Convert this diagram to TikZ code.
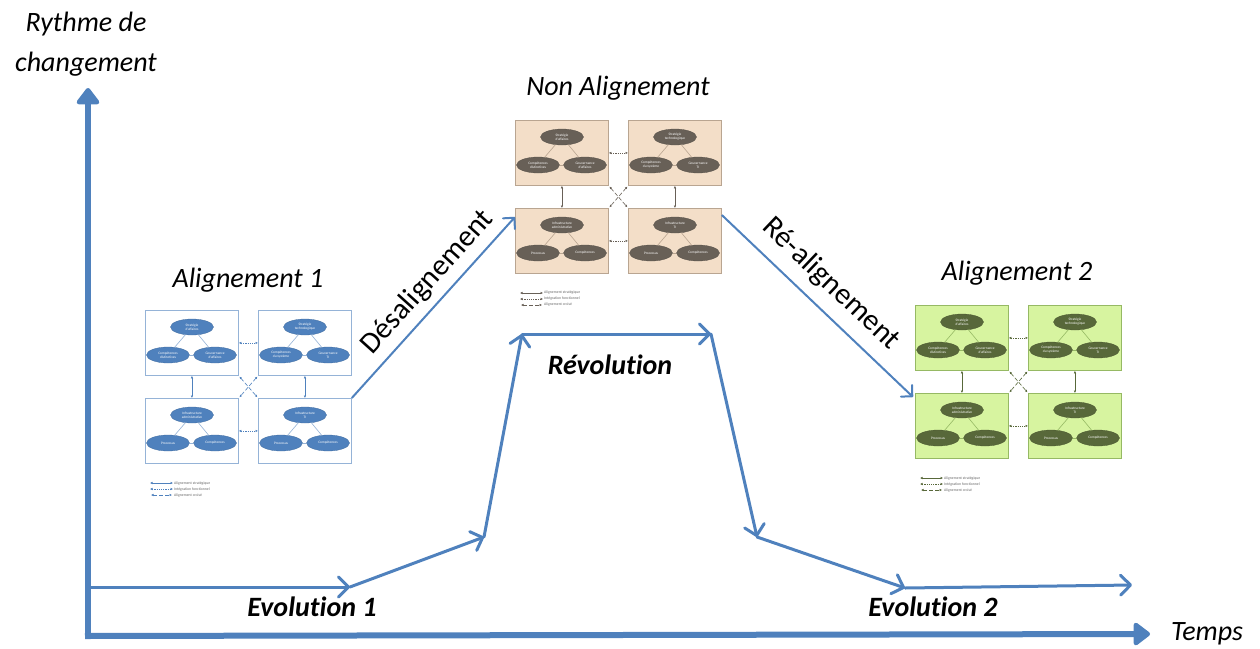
\documentclass[tikz,border=0pt]{standalone}
\usepackage{fontspec}
\setmainfont{Carlito}[Ligatures=NoCommon]
\usetikzlibrary{shapes}
\usetikzlibrary{arrows.meta}
\usetikzlibrary{positioning}

\definecolor{bleuppt}{RGB}{79,129,189}
\definecolor{bleuclair}{RGB}{149,179,215}
\definecolor{beigefond}{RGB}{243,222,200}
\definecolor{brunbord}{RGB}{185,165,145}
\definecolor{brunellip}{RGB}{104,96,87}
\definecolor{vertfond}{RGB}{215,244,160}
\definecolor{vertbord}{RGB}{150,185,100}
\definecolor{vertellip}{RGB}{88,104,58}

\newcommand{\grand}{\fontsize{28}{40}\selectfont}

% un carre du modele : #1 nom, #2 coin, #3 theme, #4-#6 textes
\newcommand{\carre}[6]{%
  \node[#3cadre, anchor=north west] (#1) at #2 {};
  \node[#3ellip] (#1-s) at ([shift={(47,17)}]#1.north west) {#4};
  \node[#3ellip] (#1-g) at ([shift={(23,45)}]#1.north west) {#5};
  \node[#3ellip] (#1-d) at ([shift={(70,45)}]#1.north west) {#6};
  \draw[#3trait] (#1-s) -- (#1-g);
  \draw[#3trait] (#1-s) -- (#1-d);
  \draw[#3trait] (#1-g) -- (#1-d);
}

% un modele complet : #1 prefixe, #2 x, #3 y, #4 theme
\newcommand{\modele}[4]{%
  \carre{#1-hg}{(#2,#3)}{#4}{Stratégie\\d'affaires}{Compétences\\distinctives}{Gouvernance\\d'affaires}
  \carre{#1-hd}{({#2+113},#3)}{#4}{Stratégie\\technologique}{Compétences\\du système}{Gouvernance\\TI}
  \carre{#1-bg}{(#2,{#3+88})}{#4}{Infrastructure\\administrative}{Processus}{Compétences}
  \carre{#1-bd}{({#2+113},{#3+88})}{#4}{Infrastructure\\TI}{Processus}{Compétences}
  \draw[#4fonc] (#1-hg) -- (#1-hd);
  \draw[#4fonc] (#1-bg) -- (#1-bd);
  \draw[#4strat] (#1-hg) -- (#1-bg);
  \draw[#4strat] (#1-hd) -- (#1-bd);
  \draw[#4crois] (#1-hg.south east) -- (#1-bd.north west);
  \draw[#4crois] (#1-hd.south west) -- (#1-bg.north east);
  % legende
  \coordinate (#1-l1) at ({#2+5},{#3+173});
  \coordinate (#1-l2) at ({#2+5},{#3+179});
  \coordinate (#1-l3) at ({#2+5},{#3+185});
  \node[legende] (#1-t1) at ({#2+28},{#3+173}) {Alignement stratégique};
  \node[legende] (#1-t2) at ({#2+28},{#3+179}) {Intégration fonctionnel};
  \node[legende] (#1-t3) at ({#2+28},{#3+185}) {Alignement croisé};
  \draw[#4strat] (#1-l1) -- (#1-t1);
  \draw[#4fonc] (#1-l2) -- (#1-t2);
  \draw[#4crois] (#1-l3) -- (#1-t3);
}

\begin{document}
\begin{tikzpicture}[
    x=1pt, y=-1pt,
    font=\grand
]
\tikzset{
    petit/.style = {{Latex[length=2.5pt,width=2.5pt]}-{Latex[length=2.5pt,width=2.5pt]}, line width=0.6pt},
    legende/.style = {anchor=west, inner sep=1pt, font=\fontsize{3.8}{4}\selectfont, text=black!60},
    % theme bleu
    bleucadre/.style = {draw=bleuclair, fill=white, line width=0.8pt, minimum width=93, minimum height=65, inner sep=0},
    bleuellip/.style = {ellipse, fill=bleuppt, draw=bleuppt!85!black, line width=0.3pt, minimum width=43, minimum height=16, inner sep=0,
                        align=center, text=white, font=\fontsize{3.5}{3.9}\selectfont},
    bleutrait/.style = {draw=bleuclair, line width=0.6pt},
    bleustrat/.style = {petit, draw=bleuppt},
    bleufonc/.style = {petit, draw=bleuppt, dash pattern=on 1.2pt off 1pt},
    bleucrois/.style = {petit, draw=bleuppt, dash pattern=on 4pt off 2pt, shorten <=1pt, shorten >=1pt},
    % theme brun
    bruncadre/.style = {draw=brunbord, fill=beigefond, line width=0.8pt, minimum width=93, minimum height=65, inner sep=0},
    brunellip/.style = {ellipse, fill=brunellip, draw=brunellip!85!black, line width=0.3pt, minimum width=43, minimum height=16, inner sep=0,
                        align=center, text=white, font=\fontsize{3.5}{3.9}\selectfont},
    bruntrait/.style = {draw=brunbord, line width=0.6pt},
    brunstrat/.style = {petit, draw=brunellip},
    brunfonc/.style = {petit, draw=brunellip, dash pattern=on 1.2pt off 1pt},
    bruncrois/.style = {petit, draw=brunellip, dash pattern=on 4pt off 2pt, shorten <=1pt, shorten >=1pt},
    % theme vert
    vertcadre/.style = {draw=vertbord, fill=vertfond, line width=0.8pt, minimum width=93, minimum height=65, inner sep=0},
    vertellip/.style = {ellipse, fill=vertellip, draw=vertellip!85!black, line width=0.3pt, minimum width=43, minimum height=16, inner sep=0,
                        align=center, text=white, font=\fontsize{3.5}{3.9}\selectfont},
    verttrait/.style = {draw=vertbord, line width=0.6pt},
    vertstrat/.style = {petit, draw=vertellip},
    vertfonc/.style = {petit, draw=vertellip, dash pattern=on 1.2pt off 1pt},
    vertcrois/.style = {petit, draw=vertellip, dash pattern=on 4pt off 2pt, shorten <=1pt, shorten >=1pt},
    % fleches
    axe/.style = {draw=bleuppt, line width=6pt, -{Triangle[round,length=18pt,width=26pt]}},
    evol/.style = {draw=bleuppt, line width=3pt, line cap=round, -{Straight Barb[round,length=10pt,width=20pt]}},
    lien/.style = {draw=bleuppt, line width=2pt, -{Straight Barb[round,length=8pt,width=16pt]}},
    titre/.style = {font=\grand\itshape},
    etape/.style = {font=\grand\bfseries\itshape}
}
\useasboundingbox (0,0) rectangle (1260,648);

% axes
\coordinate (O) at (88,636);
\coordinate (ytop) at (88,88);
\coordinate (xend) at (1150,634);
\draw[axe] (O) -- (ytop);
\draw[axe] ([xshift=-3pt]O) -- (xend);
\node[titre, align=center] (rythme) at (86,44) {Rythme de\\changement};
\node[titre] (temps) at (1207,634) {Temps};

% les trois modeles
\modele{a1}{145}{310}{bleu}
\modele{na}{515}{120}{brun}
\modele{a2}{915}{305}{vert}
\node[titre] (ta1) at (248,280) {Alignement 1};
\node[titre] (tna) at (618,88) {Non Alignement};
\node[titre] (ta2) at (1017,273) {Alignement 2};

% passages entre modeles
\draw[lien] (a1-bd.north east) -- ([yshift=-9pt]na-bg.north west)
    node[pos=0.56, sloped, above=4pt, font=\fontsize{30}{30}\selectfont] (desal) {Désalignement};
\draw[lien] ([yshift=-7pt]na-bd.north east) -- ([shift={(-2pt,-4pt)}]a2-bg.north west)
    node[pos=0.48, sloped, above=8pt, font=\fontsize{30}{30}\selectfont] (real) {Ré-alignement};

% trajectoire
\coordinate (p0) at (88,587);
\coordinate (p1) at (350,587);
\coordinate (p2) at (484,537);
\coordinate (p3) at (522,334);
\coordinate (p4) at (711,334);
\coordinate (p5) at (757,537);
\coordinate (p6) at (905,588);
\coordinate (p7) at (1132,585);
\draw[evol] (p0) -- (p1);
\draw[evol] (p1) -- (p2);
\draw[evol] (p2) -- (p3);
\draw[evol] (p3) -- (p4);
\draw[evol] (p4) -- (p5);
\draw[evol] (p5) -- (p6);
\draw[evol] (p6) -- (p7);
\node[etape] (ev1) at (312,607) {Evolution 1};
\node[etape] (rev) at (610,365) {Révolution};
\node[etape] (ev2) at (933,607) {Evolution 2};
\end{tikzpicture}
\end{document}
